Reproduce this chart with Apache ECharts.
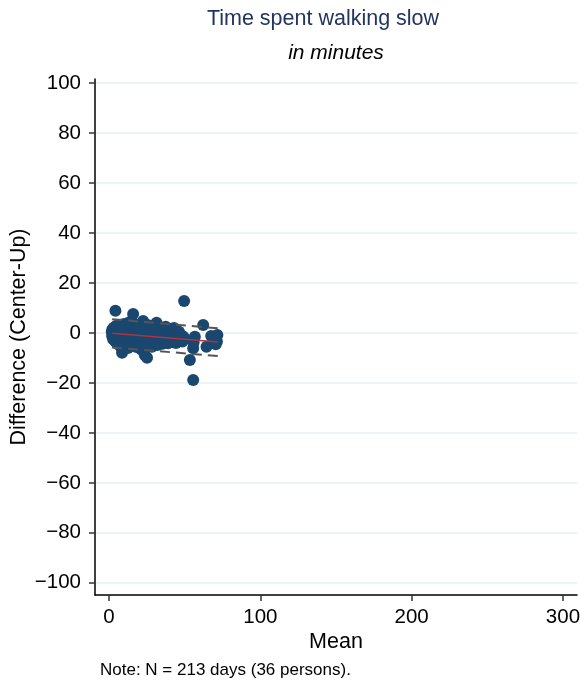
<!DOCTYPE html>
<html>
<head>
<meta charset="utf-8">
<script src="https://cdn.jsdelivr.net/npm/echarts@6/dist/echarts.min.js"></script>
<style>html,body{margin:0;padding:0;background:#fff}#c{width:581px;height:686px}</style>
</head>
<body>
<div id="c"></div>
<script>
// Mean of the two measures (x) and difference Center-Up (y)
var meanVals = [
 1.8,2.0,2.2,2.5,2.7,3.0,3.1,3.3,3.5,3.8,4.0,4.1,4.4,4.6,4.8,5.0,5.0,5.2,4.2,
 5.5,5.8,6.0,6.2,6.5,6.7,7.0,7.1,7.3,7.6,7.9,8.1,8.4,8.6,8.8,9.0,9.2,9.5,9.7,9.9,
 10.2,10.4,10.7,11.0,11.2,11.5,11.7,12.0,12.3,12.5,12.8,13.0,13.3,13.6,13.9,14.1,14.4,14.7,15.0,
 15.3,15.6,15.9,16.1,16.4,16.7,17.0,17.2,17.5,17.8,18.1,18.3,18.6,18.9,19.2,19.5,19.8,
 20.1,20.4,20.7,21.0,21.3,21.6,21.9,22.2,22.5,22.8,23.1,23.4,23.6,23.9,24.2,24.5,24.8,25.1,
 25.4,25.7,26.0,26.3,26.6,26.9,27.2,27.5,27.8,28.1,28.4,28.7,29.0,29.3,29.6,
 30.0,30.3,30.6,31.0,31.4,31.7,32.0,32.4,32.8,33.1,33.5,33.8,34.2,34.6,
 35.0,35.4,35.8,36.2,36.6,37.0,37.4,37.8,38.2,38.6,39.0,39.4,39.8,
 40.2,40.6,41.0,41.5,42.0,42.4,42.9,43.3,43.8,44.2,44.7,
 45.2,45.7,46.2,46.8,47.3,47.9,48.5,49.6,49.3,
 53.4,55.6,55.9,55.6,56.7,
 62.2,64.4,67.5,68.8,69.5,70.5,71.3,71.6
];
var diffVals = [
 0.5,-1.2,1.5,-0.3,-2.5,0.8,-1.8,2.2,-0.6,1.1,-3.2,0.2,-1.5,2.8,-0.9,1.6,-4.0,0.0,8.9,
 -2.2,3.0,-0.5,1.9,-3.6,0.6,-1.4,-5.0,2.4,-0.2,-2.8,1.2,-6.2,-7.9,0.3,-1.9,3.5,-4.4,0.9,-0.8,
 2.0,-2.6,-5.4,0.4,-1.1,3.8,-3.3,1.4,-0.4,-6.0,2.6,-2.0,0.7,-4.2,4.4,-0.9,1.7,-2.9,0.1,
 -5.0,2.9,7.6,-1.6,0.9,-3.7,1.9,-0.3,-2.4,3.3,-5.6,0.5,-1.2,2.2,-3.0,-0.6,1.3,
 -4.5,3.0,-1.9,0.2,-6.6,1.6,-2.7,-0.4,4.8,-3.9,0.8,-1.5,-8.8,2.4,-2.2,-0.1,-5.2,-9.9,
 1.1,-3.1,3.1,-0.8,-4.6,0.6,-2.0,2.0,-3.5,-0.2,-5.5,1.4,-1.3,-2.8,0.3,
 2.6,-3.9,-0.7,1.0,4.1,-2.3,-4.8,0.4,-1.6,2.1,-3.2,-0.3,1.5,-2.6,
 -0.9,-4.3,1.8,-1.9,0.2,-3.0,2.5,-0.6,-2.4,1.0,-4.1,-1.2,0.6,
 -2.9,1.6,-0.4,-3.6,0.9,-1.8,2.0,-2.7,-0.7,-4.0,0.3,
 -1.5,-3.1,0.5,-0.8,-2.3,-1.0,-3.4,12.8,-1.6,
 -10.8,-18.8,-3.8,-6.1,-1.5,
 3.2,-5.5,-1.2,-2.1,-2.4,-4.5,-3.4,-0.8
];
// Regression of difference on mean, with limits of agreement
var lineX = [2, 72];
var fitVals = [-0.1, -3.6];
var upperVals = [5.5, 1.9];
var lowerVals = [-5.8, -9.2];
// Tick labels
var xTicks = [0, 100, 200, 300];
var yTicks = [-100, -80, -60, -40, -20, 0, 20, 40, 60, 80, 100];

var pts = meanVals.map(function (m, i) { return [m, diffVals[i]]; });
function seg(vals) { return lineX.map(function (x, i) { return [x, vals[i]]; }); }
var font = "'Liberation Sans', Arial, Helvetica, sans-serif";
function minus(v) { return String(v).replace('-', '\u2212'); }

var chart = echarts.init(document.getElementById('c'), null, { renderer: 'canvas' });
chart.setOption({
  animation: false,
  backgroundColor: '#ffffff',
  grid: { left: 95, right: 4, top: 79, bottom: 91, containLabel: false, outerBoundsMode: 'none' },
  xAxis: {
    type: 'value', min: -9.3, max: 309.3,
    name: 'Mean', nameLocation: 'middle', nameGap: 36, nameMoveOverlap: false,
    nameTextStyle: { fontFamily: font, fontSize: 21.5, color: '#000' },
    axisLine: { onZero: false, lineStyle: { color: '#000', width: 1.5 } },
    axisTick: { show: true, length: 6, customValues: xTicks, lineStyle: { color: '#333', width: 1.5 } },
    axisLabel: { customValues: xTicks, margin: 12, fontFamily: font, fontSize: 20.5, color: '#000', formatter: minus, hideOverlap: false },
    splitLine: { show: false }
  },
  yAxis: {
    type: 'value', min: -104.9, max: 101.7,
    name: 'Difference (Center-Up)', nameLocation: 'middle', nameGap: 65, nameRotate: 90, nameMoveOverlap: false,
    nameTextStyle: { fontFamily: font, fontSize: 21.5, color: '#000' },
    axisLine: { onZero: false, lineStyle: { color: '#000', width: 1.5 } },
    axisTick: { show: true, length: 6, customValues: yTicks, lineStyle: { color: '#333', width: 1.5 } },
    axisLabel: { customValues: yTicks, margin: 14, fontFamily: font, fontSize: 20.5, color: '#000', formatter: minus },
    splitLine: { show: true, lineStyle: { color: '#e8eff2', width: 1.5 } }
  },
  graphic: [
    { type: 'text', x: 323, y: 8, style: { text: 'Time spent walking slow', fill: '#23345e', font: '21.5px ' + font, align: 'center', verticalAlign: 'top' } },
    { type: 'text', x: 336, y: 43, style: { text: 'in minutes', fill: '#000', font: 'italic 21px ' + font, align: 'center', verticalAlign: 'top' } },
    { type: 'text', x: 100, y: 662, style: { text: 'Note: N = 213 days (36 persons).', fill: '#000', font: '17px ' + font, verticalAlign: 'top' } }
  ],
  series: [
    { type: 'scatter', data: pts, symbol: 'circle', symbolSize: 12, z: 2,
      itemStyle: { color: '#1a476f', opacity: 1 } },
    { type: 'line', data: seg(upperVals), symbol: 'none', z: 3,
      lineStyle: { color: '#555555', width: 2, type: [10, 6] } },
    { type: 'line', data: seg(lowerVals), symbol: 'none', z: 3,
      lineStyle: { color: '#555555', width: 2, type: [10, 6] } },
    { type: 'line', data: seg(fitVals), symbol: 'none', z: 4,
      lineStyle: { color: '#b0343a', width: 1.5 } }
  ]
});
</script>
</body>
</html>
